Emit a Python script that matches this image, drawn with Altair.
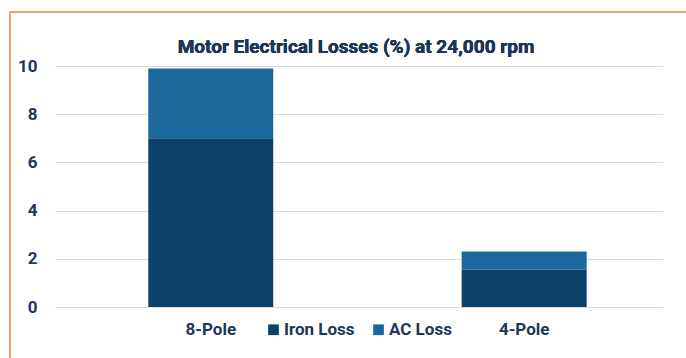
import altair as alt
import pandas as pd

# Motor electrical losses (%) at 24,000 rpm, split by loss type
configs = ["8-Pole", "4-Pole"]
iron_loss = [7.0, 1.55]
ac_loss = [2.9, 0.75]
loss_types = ["Iron Loss", "AC Loss"]
loss_colors = ["#0e4169", "#1b699c"]
y_ticks = [0, 2, 4, 6, 8, 10]
title_text = "Motor Electrical Losses (%) at 24,000 rpm"

rows = []
for i, cfg in enumerate(configs):
    rows.append({"config": cfg, "loss": loss_types[0], "value": iron_loss[i], "order": 0})
    rows.append({"config": cfg, "loss": loss_types[1], "value": ac_loss[i], "order": 1})
df = pd.DataFrame(rows)

FONT = "Roboto"
TEXT = "#1d3656"
LABEL_SIZE = 17

bars = alt.Chart(df).mark_bar(size=125).encode(
    x=alt.X(
        "config:N",
        sort=configs,
        scale=alt.Scale(paddingInner=0.6, paddingOuter=0.27, align=0.55),
        axis=alt.Axis(
            title=None, labelAngle=0, domain=False, ticks=False,
            labelFont=FONT, labelFontSize=LABEL_SIZE, labelFontWeight="bold",
            labelColor=TEXT, labelPadding=14,
        ),
    ),
    y=alt.Y(
        "value:Q",
        stack="zero",
        scale=alt.Scale(domain=[0, 10], nice=False),
        axis=alt.Axis(
            title=None, values=y_ticks, domain=False, ticks=False,
            labelFont=FONT, labelFontSize=LABEL_SIZE, labelFontWeight="bold",
            labelColor=TEXT, labelPadding=18, gridColor="#dcdcdc",
        ),
    ),
    color=alt.Color(
        "loss:N",
        sort=loss_types,
        scale=alt.Scale(domain=loss_types, range=loss_colors),
        legend=alt.Legend(
            title=None, orient="none", direction="horizontal",
            legendX=210, legendY=255,
            symbolType="square", symbolSize=115, symbolStrokeWidth=0,
            labelFont=FONT, labelFontSize=LABEL_SIZE, labelFontWeight="bold",
            labelColor=TEXT, labelOffset=2, columnPadding=15,
        ),
    ),
    order=alt.Order("order:Q", sort="ascending"),
)

# Chart heading, centred over the plot
heading = alt.Chart(df).mark_text(
    text=title_text, font=FONT, fontSize=19, fontWeight="bold", color=TEXT,
    align="center", baseline="middle",
).encode(x=alt.value(301), y=alt.value(-19))

# Orange frame along the top and left edges of the panel
frame_left = alt.Chart(df).mark_rule(color="#f6a06e", strokeWidth=2).encode(
    x=alt.value(-45), y=alt.value(-54), y2=alt.value(300)
)
frame_top = alt.Chart(df).mark_rule(color="#f6a06e", strokeWidth=2).encode(
    x=alt.value(-46), x2=alt.value(640), y=alt.value(-54)
)

chart = alt.layer(bars, heading, frame_left, frame_top).properties(
    width=608,
    height=241,
    autosize=alt.AutoSizeParams(type="none"),
    padding={"left": 55, "top": 66, "right": 23, "bottom": 51},
).configure(background="white", view=alt.ViewConfig(stroke=None))

chart.save("out.html", embed_options={"renderer": "svg", "actions": False})
